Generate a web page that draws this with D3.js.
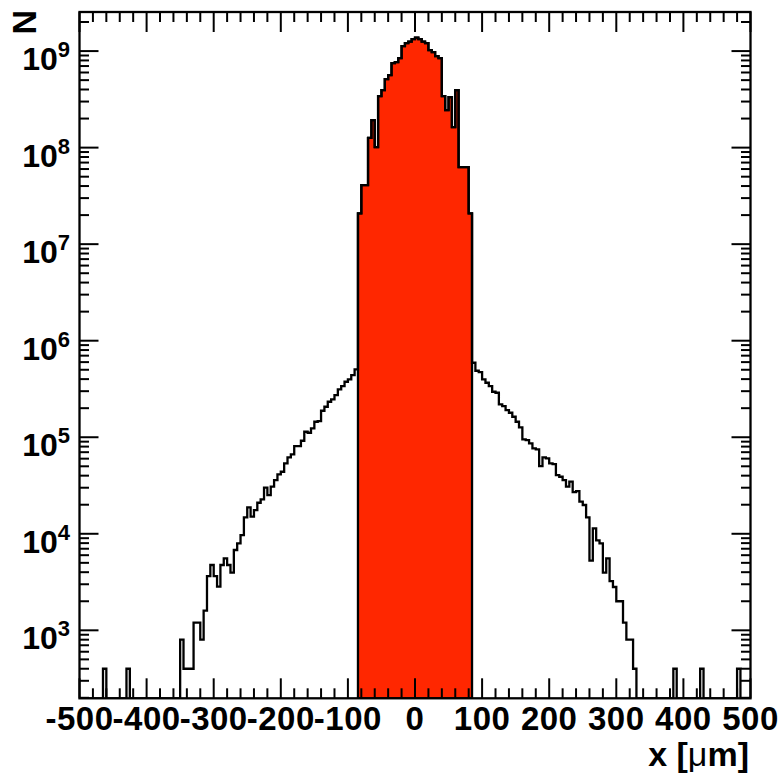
<!DOCTYPE html>
<html>
<head>
<meta charset="utf-8">
<script src="https://cdn.jsdelivr.net/npm/d3@7"></script>
<style>
  html, body { margin: 0; padding: 0; background: #ffffff; }
  svg { display: block; }
  text { font-family: "Liberation Sans", Arial, Helvetica, sans-serif; font-weight: bold; fill: #000; }
</style>
</head>
<body>
<svg id="chart" width="784" height="775"></svg>
<script>
// ---------------- DATA ----------------
// histogram: 200 bins of 5 um from -500 to 500 um
const xRange = [-500, 500];
const binWidth = 5;
const counts = [
  // -500 .. -455
  0, 0, 0, 0, 0, 0, 0, 400, 0, 0,
  // -450 .. -405
  0, 0, 0, 0, 400, 0, 0, 0, 0, 0,
  // -400 .. -355
  0, 0, 0, 0, 0, 0, 0, 0, 0, 0,
  // -350 .. -305
  800, 400, 400, 400, 1200, 1200, 800, 1600, 3650, 4750,
  // -300 .. -255
  3650, 2830, 4750, 5570, 4750, 3950, 6790, 7960, 9700, 14800,
  // -250 .. -205
  18790, 15020, 17620, 20970, 22740, 30000, 25190, 30720, 36040, 41280,
  // -200 .. -155
  43930, 53660, 61900, 66500, 81090, 81090, 91970, 114000, 111300, 123700,
  // -150 .. -105
  144700, 147200, 188200, 207000, 233200, 246900, 273600, 313400, 339100, 375700,
  // -100 .. -55
  397900, 440800, 505100, 2.08e7, 4.09e7, 4.09e7, 1.26e8, 1.93e8, 1.01e8, 3.42e8,
  // -50 .. -5
  3.95e8, 5.13e8, 5.64e8, 7.51e8, 7.69e8, 8.46e8, 1.127e9, 1.21e9, 1.254e9, 1.331e9,
  // 0 .. 45
  1.38e9, 1.331e9, 1.254e9, 1.21e9, 1.024e9, 9.76e8, 8.87e8, 8.46e8, 3.42e8, 2.45e8,
  // 50 .. 95
  3.34e8, 1.633e8, 3.95e8, 6.29e7, 6.29e7, 6.29e7, 2.08e7, 591000, 488400, 473500,
  // 100 .. 145
  397900, 366900, 339100, 296000, 288900, 219200, 210500, 191300, 179400, 163100,
  // 150 .. 195
  144700, 126600, 95100, 93500, 86460, 76740, 74940, 50310, 61900, 60450,
  // 200 .. 245
  53660, 52770, 40600, 38990, 36040, 30720, 34610, 27060, 27720, 21480,
  // 250 .. 295
  19860, 14800, 5260, 11390, 8555, 7960, 3950, 5570, 3240, 2810,
  // 300 .. 345
  2000, 2000, 1200, 800, 800, 400, 0, 0, 0, 0,
  // 350 .. 395
  0, 0, 0, 0, 0, 0, 0, 400, 0, 0,
  // 400 .. 445
  0, 0, 0, 0, 0, 400, 0, 0, 0, 0,
  // 450 .. 495
  0, 0, 0, 0, 0, 0, 400, 0, 0, 0
];
// selected (filled) window
const selectedRange = [-85, 85];
const xTickValues = [-500, -400, -300, -200, -100, 0, 100, 200, 300, 400, 500];
const xTickLabels = ["-500", "-400", "-300", "-200", "-100", "0", "100", "200", "300", "400", "500"];
const yDecades = [3, 4, 5, 6, 7, 8, 9];
const yDomain = [197.6, 2.54e9];
const xTitle = "x [";
const xTitleMu = "\u03bc";
const xTitleEnd = "m]";
const yTitle = "N";

// ---------------- LAYOUT ----------------
const frame = { left: 79.5, right: 750.5, top: 12, bottom: 698.3 };
const fillColor = "#ff2700";

const svg = d3.select("#chart");
const x = d3.scaleLinear().domain(xRange).range([frame.left, frame.right]);
const y = d3.scaleLog().domain(yDomain).range([frame.bottom, frame.top]);

const bins = counts.map((c, i) => ({
  lo: xRange[0] + i * binWidth,
  hi: xRange[0] + (i + 1) * binWidth,
  v: c
}));
const yOf = v => (v > 0 ? y(Math.max(v, yDomain[0])) : frame.bottom);

svg.append("defs").append("clipPath").attr("id", "plotclip")
  .append("rect")
  .attr("x", frame.left).attr("y", frame.top)
  .attr("width", frame.right - frame.left).attr("height", frame.bottom - frame.top);

const plot = svg.append("g").attr("clip-path", "url(#plotclip)");

// selected (red) histogram
const sel = bins.filter(b => b.lo >= selectedRange[0] - 1e-9 && b.hi <= selectedRange[1] + 1e-9);
const selPath = d3.path();
selPath.moveTo(x(sel[0].lo), frame.bottom);
sel.forEach(b => { selPath.lineTo(x(b.lo), yOf(b.v)); selPath.lineTo(x(b.hi), yOf(b.v)); });
selPath.lineTo(x(sel[sel.length - 1].hi), frame.bottom);
selPath.closePath();
plot.append("path").attr("d", selPath.toString())
  .attr("fill", fillColor).attr("stroke", "#000").attr("stroke-width", 2.3)
  .attr("stroke-linejoin", "miter");

// full histogram outline
const fullPath = d3.path();
fullPath.moveTo(x(bins[0].lo), frame.bottom);
bins.forEach(b => { fullPath.lineTo(x(b.lo), yOf(b.v)); fullPath.lineTo(x(b.hi), yOf(b.v)); });
fullPath.lineTo(x(bins[bins.length - 1].hi), frame.bottom);
plot.append("path").attr("d", fullPath.toString())
  .attr("fill", "none").attr("stroke", "#000").attr("stroke-width", 2.3)
  .attr("stroke-linejoin", "miter");

// ---------------- AXES ----------------
const axes = svg.append("g").attr("stroke", "#000").attr("stroke-width", 2);

// x ticks (bottom & top)
const xMinor = d3.range(xRange[0], xRange[1] + 0.1, 20);
xMinor.forEach(v => {
  const major = Math.abs(v % 100) < 1e-9;
  const len = major ? 20 : 10;
  axes.append("line").attr("x1", x(v)).attr("x2", x(v))
    .attr("y1", frame.bottom).attr("y2", frame.bottom - len);
  axes.append("line").attr("x1", x(v)).attr("x2", x(v))
    .attr("y1", frame.top).attr("y2", frame.top + len);
});

// y ticks (left & right)
const yTicks = [];
for (let d = 2; d <= 9; d++) {
  for (let m = 1; m <= 9; m++) {
    const v = m * Math.pow(10, d);
    if (v >= yDomain[0] && v <= yDomain[1]) yTicks.push({ v, major: m === 1 });
  }
}
yTicks.forEach(t => {
  const len = t.major ? 19 : 9.5;
  axes.append("line").attr("x1", frame.left).attr("x2", frame.left + len)
    .attr("y1", y(t.v)).attr("y2", y(t.v));
  axes.append("line").attr("x1", frame.right).attr("x2", frame.right - len)
    .attr("y1", y(t.v)).attr("y2", y(t.v));
});

// frame
svg.append("rect")
  .attr("x", frame.left).attr("y", frame.top)
  .attr("width", frame.right - frame.left).attr("height", frame.bottom - frame.top)
  .attr("fill", "none").attr("stroke", "#000").attr("stroke-width", 2.3);

// x tick labels
svg.append("g").selectAll("text").data(xTickValues).join("text")
  .attr("x", d => x(d))
  .attr("y", 730)
  .attr("text-anchor", "middle")
  .attr("font-size", 33)
  .attr("letter-spacing", 0.5)
  .text((d, i) => xTickLabels[i]);

// y tick labels 10^n
yDecades.forEach(n => {
  const t = svg.append("text")
    .attr("x", 70).attr("y", y(Math.pow(10, n)) + 19)
    .attr("text-anchor", "end")
    .attr("font-size", 32);
  t.append("tspan").text("10");
  t.append("tspan").attr("dy", -13).attr("font-size", 22).text(String(n));
});

// axis titles
const xt = svg.append("text")
  .attr("x", 749).attr("y", 766)
  .attr("text-anchor", "end")
  .attr("font-size", 34);
xt.append("tspan").text(xTitle);
xt.append("tspan").attr("font-weight", "normal").text(xTitleMu);
xt.append("tspan").text(xTitleEnd);

svg.append("text")
  .attr("transform", "translate(36,10) rotate(-90)")
  .attr("text-anchor", "end")
  .attr("font-size", 34)
  .text(yTitle);
</script>
</body>
</html>
